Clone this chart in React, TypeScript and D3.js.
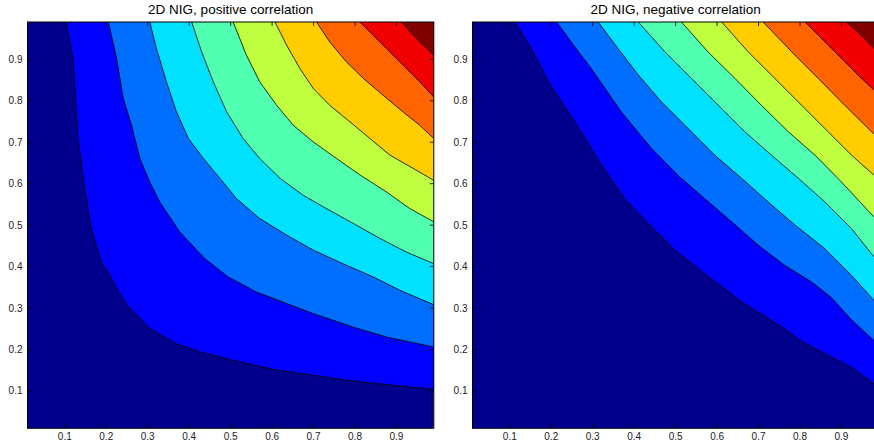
import React from "react";
import * as d3 from "d3";

type Pt = [number, number];

const titles = ["2D NIG, positive correlation", "2D NIG, negative correlation"];
const tickValues = [0.1, 0.2, 0.3, 0.4, 0.5, 0.6, 0.7, 0.8, 0.9];
const domain: [number, number] = [0.01, 0.99];

// jet-like colours for the 10 filled bands (lowest to highest)
const bandColors = [
  "#00008c", "#0000ff", "#006eff", "#00e1ff", "#50ffb0",
  "#c0ff3f", "#ffcd00", "#ff6400", "#f00000", "#800000",
];

// contour lines, panel 1 (positive correlation)
const posContours: Pt[][] = [
  [[0.103, 0.99], [0.12, 0.902], [0.132, 0.709], [0.148, 0.589], [0.164, 0.492], [0.188, 0.411], [0.209, 0.379], [0.229, 0.339], [0.257, 0.3], [0.305, 0.251], [0.369, 0.214], [0.43, 0.193], [0.506, 0.174], [0.603, 0.152], [0.699, 0.138], [0.796, 0.124], [0.9, 0.113], [0.99, 0.104]],
  [[0.205, 0.99], [0.225, 0.902], [0.241, 0.806], [0.261, 0.741], [0.281, 0.661], [0.305, 0.604], [0.329, 0.556], [0.377, 0.484], [0.438, 0.419], [0.494, 0.375], [0.562, 0.339], [0.635, 0.311], [0.699, 0.287], [0.796, 0.254], [0.876, 0.23], [0.99, 0.206]],
  [[0.305, 0.99], [0.321, 0.926], [0.345, 0.846], [0.369, 0.774], [0.398, 0.709], [0.434, 0.661], [0.474, 0.613], [0.514, 0.564], [0.57, 0.516], [0.635, 0.476], [0.699, 0.44], [0.771, 0.407], [0.844, 0.375], [0.908, 0.343], [0.99, 0.308]],
  [[0.406, 0.99], [0.43, 0.918], [0.458, 0.846], [0.49, 0.774], [0.53, 0.709], [0.57, 0.661], [0.619, 0.613], [0.675, 0.572], [0.731, 0.54], [0.796, 0.504], [0.86, 0.468], [0.924, 0.435], [0.99, 0.407]],
  [[0.506, 0.99], [0.538, 0.91], [0.57, 0.846], [0.611, 0.789], [0.651, 0.741], [0.699, 0.701], [0.755, 0.661], [0.812, 0.621], [0.876, 0.58], [0.932, 0.54], [0.99, 0.508]],
  [[0.607, 0.99], [0.635, 0.934], [0.667, 0.878], [0.699, 0.83], [0.739, 0.789], [0.788, 0.749], [0.836, 0.709], [0.884, 0.669], [0.94, 0.637], [0.99, 0.608]],
  [[0.707, 0.99], [0.739, 0.942], [0.779, 0.894], [0.82, 0.854], [0.868, 0.813], [0.916, 0.773], [0.956, 0.741], [0.99, 0.709]],
  [[0.812, 0.99], [0.844, 0.958], [0.876, 0.926], [0.916, 0.886], [0.956, 0.846], [0.99, 0.809]],
  [[0.912, 0.99], [0.948, 0.95], [0.99, 0.91]],
];

// panel 2 (negative correlation)
const negContours: Pt[][] = [
  [[0.112, 0.99], [0.152, 0.926], [0.193, 0.846], [0.225, 0.797], [0.257, 0.749], [0.297, 0.685], [0.321, 0.645], [0.377, 0.564], [0.434, 0.504], [0.498, 0.44], [0.57, 0.383], [0.659, 0.315], [0.755, 0.255], [0.8, 0.222], [0.86, 0.19], [0.927, 0.155], [0.978, 0.118], [0.99, 0.11]],
  [[0.213, 0.99], [0.257, 0.93], [0.297, 0.877], [0.369, 0.773], [0.442, 0.685], [0.506, 0.62], [0.57, 0.564], [0.635, 0.508], [0.699, 0.452], [0.763, 0.403], [0.828, 0.363], [0.876, 0.325], [0.924, 0.272], [0.978, 0.222], [0.99, 0.212]],
  [[0.313, 0.99], [0.361, 0.926], [0.41, 0.862], [0.466, 0.797], [0.53, 0.733], [0.594, 0.669], [0.659, 0.613], [0.723, 0.556], [0.788, 0.5], [0.86, 0.443], [0.924, 0.379], [0.978, 0.319], [0.99, 0.305]],
  [[0.41, 0.99], [0.474, 0.918], [0.538, 0.854], [0.603, 0.789], [0.667, 0.725], [0.731, 0.669], [0.796, 0.613], [0.86, 0.556], [0.924, 0.492], [0.978, 0.424], [0.99, 0.41]],
  [[0.514, 0.99], [0.578, 0.918], [0.643, 0.854], [0.707, 0.789], [0.772, 0.725], [0.836, 0.669], [0.9, 0.604], [0.978, 0.52], [0.99, 0.507]],
  [[0.611, 0.99], [0.675, 0.918], [0.739, 0.854], [0.804, 0.789], [0.868, 0.725], [0.924, 0.669], [0.978, 0.621], [0.99, 0.61]],
  [[0.711, 0.99], [0.78, 0.918], [0.844, 0.854], [0.908, 0.789], [0.978, 0.72], [0.99, 0.707]],
  [[0.812, 0.99], [0.876, 0.926], [0.94, 0.862], [0.978, 0.826], [0.99, 0.815]],
  [[0.912, 0.99], [0.948, 0.958], [0.978, 0.926], [0.99, 0.914]],
];

const W = 874;
const H = 448;
const panelLefts = [27.5, 472.5];
const plotTop = 22;
const plotSize = 406.3;
const FONT = "'Liberation Sans', Arial, Helvetica, sans-serif";

function Panel({ idx, contours }: { idx: number; contours: Pt[][] }) {
  const left = panelLefts[idx];
  const x = d3.scaleLinear().domain(domain).range([left, left + plotSize]);
  const y = d3.scaleLinear().domain(domain).range([plotTop + plotSize, plotTop]);
  const line = d3.line<Pt>().x((d) => x(d[0])).y((d) => y(d[1]));
  const clipId = `clip${idx}`;
  const x0 = x(domain[0]);
  const x1 = x(domain[1]);
  const y0 = y(domain[0]);
  const y1 = y(domain[1]);
  const tickLen = 4;
  return (
    <g>
      <defs>
        <clipPath id={clipId}>
          <rect x={x0} y={y1} width={x1 - x0} height={y0 - y1} />
        </clipPath>
      </defs>
      <g clipPath={`url(#${clipId})`}>
        <rect x={x0} y={y1} width={x1 - x0} height={y0 - y1} fill={bandColors[0]} />
        {contours.map((c, k) => {
          const first = c[0];
          const last = c[c.length - 1];
          const poly: Pt[] = [[first[0], 1.05], ...c, [1.05, last[1]], [1.05, 1.05]];
          return <path key={"f" + k} d={(line(poly) || "") + "Z"} fill={bandColors[k + 1]} stroke="none" />;
        })}
        {contours.map((c, k) => (
          <path key={"l" + k} d={line(c) || ""} fill="none" stroke="#000" strokeWidth={0.8} />
        ))}
      </g>
      <rect x={x0} y={y1} width={x1 - x0} height={y0 - y1} fill="none" stroke="#000" strokeWidth={1} />
      {tickValues.map((t) => (
        <g key={"t" + t}>
          <line x1={x(t)} x2={x(t)} y1={y0} y2={y0 - tickLen} stroke="#000" strokeWidth={0.8} />
          <line x1={x(t)} x2={x(t)} y1={y1} y2={y1 + tickLen} stroke="#000" strokeWidth={0.8} />
          <line x1={x0} x2={x0 + tickLen} y1={y(t)} y2={y(t)} stroke="#000" strokeWidth={0.8} />
          <line x1={x1} x2={x1 - tickLen} y1={y(t)} y2={y(t)} stroke="#000" strokeWidth={0.8} />
          <text x={x(t)} y={y0 + 12} textAnchor="middle" fontSize={10} fontFamily={FONT} fill="#222">
            {t.toFixed(1)}
          </text>
          <text x={x0 - 5} y={y(t) + 3.5} textAnchor="end" fontSize={10} fontFamily={FONT} fill="#222">
            {t.toFixed(1)}
          </text>
        </g>
      ))}
      <text x={(x0 + x1) / 2} y={14} textAnchor="middle" fontSize={13.5} fontFamily={FONT} fill="#000">
        {titles[idx]}
      </text>
    </g>
  );
}

export default function App() {
  return (
    <svg width={W} height={H} style={{ position: "absolute", left: 0, top: 0, background: "#fff" }}>
      <rect x={0} y={0} width={W} height={H} fill="#fff" />
      <Panel idx={0} contours={posContours} />
      <Panel idx={1} contours={negContours} />
    </svg>
  );
}
